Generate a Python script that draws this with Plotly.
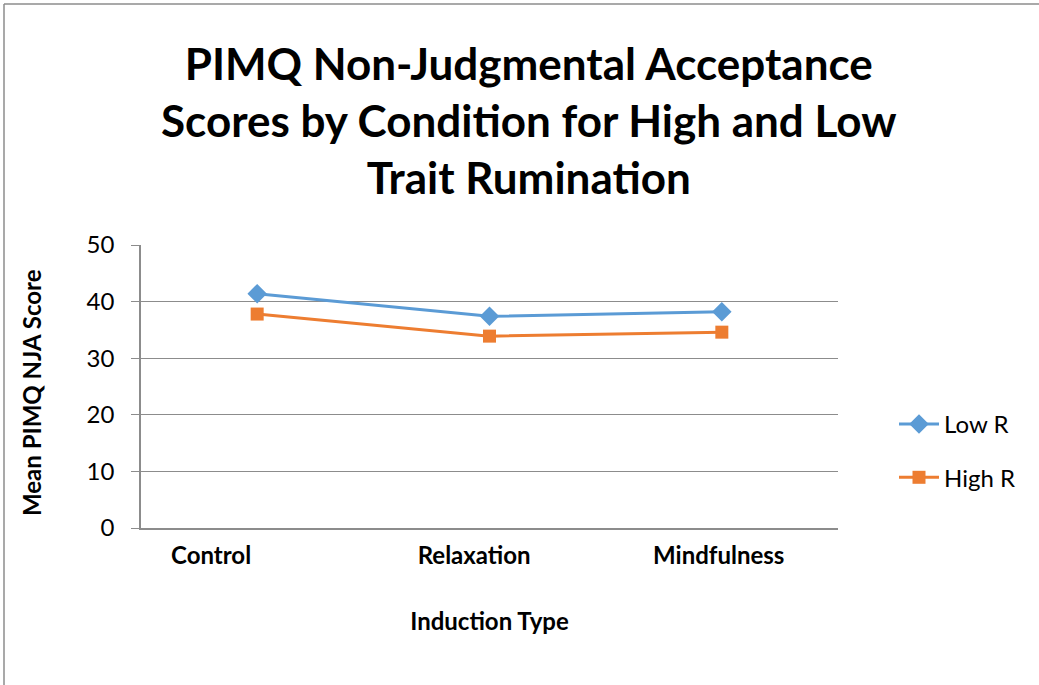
import plotly.graph_objects as go

categories = ["Control", "Relaxation", "Mindfulness"]
low_r = [41.4, 37.4, 38.2]
high_r = [37.8, 33.9, 34.6]
y_ticks = [0, 10, 20, 30, 40, 50]

FONT = "Lato, Calibri, Carlito, sans-serif"
W, H = 1039, 685
L, R, T, B = 141, 838, 245, 528
GRID = "#8C8C8C"
NB = "\u00a0"
# trailing padding reproduces the off-centre label placement of the original
label_pad = [15, 5, 1]

fig = go.Figure()
fig.add_trace(go.Scatter(x=categories, y=low_r, name="Low R", mode="lines+markers",
                         legendgroup="a",
                         line=dict(color="#5B9BD5", width=3),
                         marker=dict(symbol="diamond", size=15, color="#5B9BD5")))
fig.add_trace(go.Scatter(x=categories, y=high_r, name="High R", mode="lines+markers",
                         legendgroup="b",
                         line=dict(color="#ED7D31", width=3),
                         marker=dict(symbol="square", size=13, color="#ED7D31")))

pw, ph = R - L, B - T
def px2x(p): return (p - L) / pw
def px2y(p): return (B - p) / ph

fig.update_layout(
    width=W, height=H,
    margin=dict(l=L, r=W - R, t=T, b=H - B, autoexpand=False),
    paper_bgcolor="white", plot_bgcolor="white",
    font=dict(family=FONT, color="black"),
    showlegend=True,
    legend=dict(x=px2x(894), y=px2y(402), xanchor="left", yanchor="top",
                font=dict(size=24, family=FONT), tracegroupgap=19, itemwidth=40,
                bgcolor="rgba(0,0,0,0)"),
    xaxis=dict(type="category", range=[-0.5, 2.5], showgrid=False,
               showline=True, linecolor=GRID, linewidth=1.5,
               tickvals=categories,
               ticktext=[f"<b>{c}</b>" + NB * p for c, p in zip(categories, label_pad)],
               tickfont=dict(size=24, family=FONT, color="black"),
               ticks="", ticklabelstandoff=5,
               title=dict(text="<b>Induction Type</b>", font=dict(size=24, family=FONT), standoff=46)),
    yaxis=dict(range=[0, 50], tickvals=y_ticks, showgrid=True, gridcolor=GRID, gridwidth=1,
               showline=True, linecolor=GRID, linewidth=1.5, zeroline=False,
               ticks="outside", ticklen=8, tickcolor=GRID,
               tickfont=dict(size=24, family=FONT, color="black"),
               ticklabelstandoff=12),
)

# y-axis title
fig.add_annotation(text="<b>Mean PIMQ NJA Score</b>", textangle=-90,
                   xref="paper", yref="paper", x=px2x(31), y=px2y(393), xanchor="center", yanchor="middle",
                   showarrow=False, font=dict(size=24, family=FONT, color="black"))

fig.add_annotation(text="<b>PIMQ Non-Judgmental Acceptance<br>Scores by Condition for High and Low<br>Trait Rumination</b>",
                   xref="paper", yref="paper", x=px2x(528), y=px2y(120), xanchor="center", yanchor="middle",
                   showarrow=False, font=dict(size=44, family=FONT, color="black"), align="center")

# chart frame (left and top edges)
fig.add_shape(type="line", xref="paper", yref="paper", x0=px2x(4), x1=px2x(4), y0=px2y(4), y1=px2y(690),
              line=dict(color=GRID, width=1.5))
fig.add_shape(type="line", xref="paper", yref="paper", x0=px2x(4), x1=px2x(1045), y0=px2y(4), y1=px2y(4),
              line=dict(color=GRID, width=1.5))

fig.write_html("out.html", config={"displayModeBar": False},
               post_script="document.body.style.margin='0px';document.body.style.overflow='hidden';")
